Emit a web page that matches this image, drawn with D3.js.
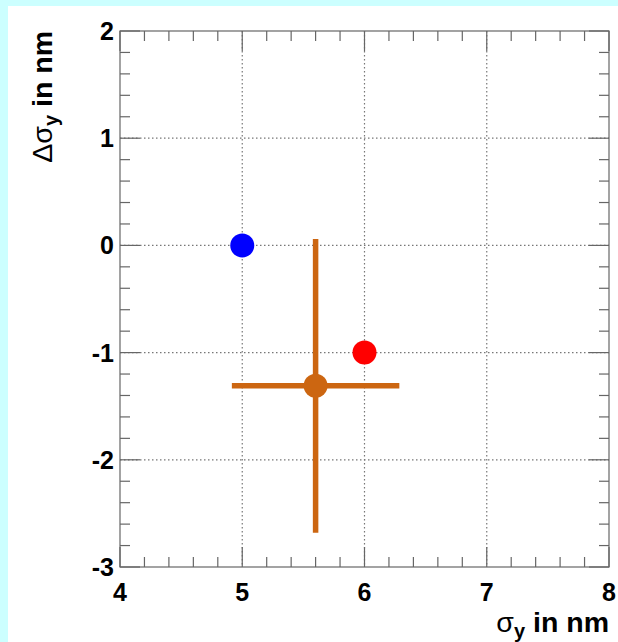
<!DOCTYPE html>
<html>
<head>
<meta charset="utf-8">
<script src="https://cdn.jsdelivr.net/npm/d3@7"></script>
<style>
  body { margin: 0; background: #fff; }
  svg { display: block; }
  .tick-label { font-family: "Liberation Sans", Arial, sans-serif; font-weight: bold; font-size: 25px; fill: #000; }
  .axis-title { font-family: "Liberation Sans", Arial, sans-serif; font-weight: bold; font-size: 28.5px; fill: #000; }
</style>
</head>
<body>
<div id="chart"></div>
<script>
// data
const pointNames = ['blue', 'red', 'measured'];
const sigmaY = [5.0, 6.0, 5.6];
const deltaSigmaY = [0.0, -1.0, -1.31];
const sigmaYErr = [0, 0, 0.685];
const deltaSigmaYErr = [0, 0, 1.37];
const pointColors = ['#0000ff', '#ff0000', '#cc6611'];

const xTicks = [4, 5, 6, 7, 8];
const yTicks = [-3, -2, -1, 0, 1, 2];

const config = {
  width: 618, height: 642,
  margin: {top: 31, right: 9, bottom: 75, left: 120}
};

const svg = d3.select('#chart').append('svg')
    .attr('width', config.width)
    .attr('height', config.height);

// light cyan frame strips (top and left)
svg.append('rect').attr('x', 0).attr('y', 0).attr('width', config.width).attr('height', 6).attr('fill', '#ccffff');
svg.append('rect').attr('x', 0).attr('y', 0).attr('width', 8).attr('height', config.height).attr('fill', '#ccffff');

const x0 = config.margin.left, x1 = config.width - config.margin.right;
const y0 = config.margin.top, y1 = config.height - config.margin.bottom;

const xScale = d3.scaleLinear().domain([4, 8]).range([x0, x1]);
const yScale = d3.scaleLinear().domain([-3, 2]).range([y1, y0]);

const chart = svg.append('g');

// grid
const gridColor = '#777';
chart.selectAll('.grid-x')
    .data(xTicks.slice(1, -1))
  .join('line')
    .attr('class', 'grid-x')
    .attr('x1', d => xScale(d)).attr('x2', d => xScale(d))
    .attr('y1', y0).attr('y2', y1)
    .attr('stroke', gridColor).attr('stroke-width', 1.2)
    .attr('stroke-dasharray', '1.5,2.5');
chart.selectAll('.grid-y')
    .data(yTicks.slice(1, -1))
  .join('line')
    .attr('class', 'grid-y')
    .attr('x1', x0).attr('x2', x1)
    .attr('y1', d => yScale(d)).attr('y2', d => yScale(d))
    .attr('stroke', gridColor).attr('stroke-width', 1.2)
    .attr('stroke-dasharray', '1.5,2.5');

// frame
const axisColor = '#666';
chart.append('rect')
    .attr('x', x0).attr('y', y0)
    .attr('width', x1 - x0).attr('height', y1 - y0)
    .attr('fill', 'none').attr('stroke', axisColor).attr('stroke-width', 1.2);

// ticks (major 20px, minor 10px, on all four sides, pointing inward)
const xMinor = xScale.ticks(20);
const yMinor = yScale.ticks(25);
const isMajor = v => Math.abs(v - Math.round(v)) < 1e-6;
const tickG = chart.append('g').attr('stroke', axisColor).attr('stroke-width', 1.2);
xMinor.forEach(v => {
  const len = isMajor(v) ? 20 : 10;
  const px = xScale(v);
  tickG.append('line').attr('x1', px).attr('x2', px).attr('y1', y1).attr('y2', y1 - len);
  tickG.append('line').attr('x1', px).attr('x2', px).attr('y1', y0).attr('y2', y0 + len);
});
yMinor.forEach(v => {
  const len = isMajor(v) ? 20 : 10;
  const py = yScale(v);
  tickG.append('line').attr('x1', x0).attr('x2', x0 + len).attr('y1', py).attr('y2', py);
  tickG.append('line').attr('x1', x1).attr('x2', x1 - len).attr('y1', py).attr('y2', py);
});

// tick labels
chart.selectAll('.x-label')
    .data(xTicks)
  .join('text')
    .attr('class', 'tick-label')
    .attr('text-anchor', 'middle')
    .attr('x', d => xScale(d))
    .attr('y', y1 + 34)
    .text(d => d);
chart.selectAll('.y-label')
    .data(yTicks)
  .join('text')
    .attr('class', 'tick-label')
    .attr('text-anchor', 'end')
    .attr('x', x0 - 6)
    .attr('y', d => yScale(d) + 9)
    .text(d => d);

// axis titles
const xTitle = svg.append('text')
    .attr('class', 'axis-title')
    .attr('text-anchor', 'end')
    .attr('x', x1)
    .attr('y', 632);
xTitle.append('tspan').attr('font-weight', 'normal').text('σ');
xTitle.append('tspan').attr('font-size', 20).attr('dy', 6).text('y');
xTitle.append('tspan').attr('dy', -6).text(' in nm');

const yTitle = svg.append('text')
    .attr('class', 'axis-title')
    .attr('text-anchor', 'end')
    .attr('transform', `translate(52,${y0}) rotate(-90)`);
yTitle.append('tspan').attr('font-weight', 'normal').text('Δσ');
yTitle.append('tspan').attr('font-size', 20).attr('dy', 6).text('y');
yTitle.append('tspan').attr('dy', -6).text(' in nm');

// points with error bars
const pts = pointNames.map((name, i) => ({
  name, x: sigmaY[i], y: deltaSigmaY[i], ex: sigmaYErr[i], ey: deltaSigmaYErr[i], color: pointColors[i]
}));

const errG = chart.append('g');
pts.filter(d => d.ex > 0).forEach(d => {
  errG.append('line')
      .attr('x1', xScale(d.x - d.ex)).attr('x2', xScale(d.x + d.ex))
      .attr('y1', yScale(d.y)).attr('y2', yScale(d.y))
      .attr('stroke', d.color).attr('stroke-width', 5.5);
});
pts.filter(d => d.ey > 0).forEach(d => {
  errG.append('line')
      .attr('x1', xScale(d.x)).attr('x2', xScale(d.x))
      .attr('y1', yScale(d.y - d.ey)).attr('y2', yScale(d.y + d.ey))
      .attr('stroke', d.color).attr('stroke-width', 5.5);
});

chart.selectAll('.point')
    .data(pts)
  .join('circle')
    .attr('class', 'point')
    .attr('cx', d => xScale(d.x))
    .attr('cy', d => yScale(d.y))
    .attr('r', 12)
    .attr('fill', d => d.color);
</script>
</body>
</html>
